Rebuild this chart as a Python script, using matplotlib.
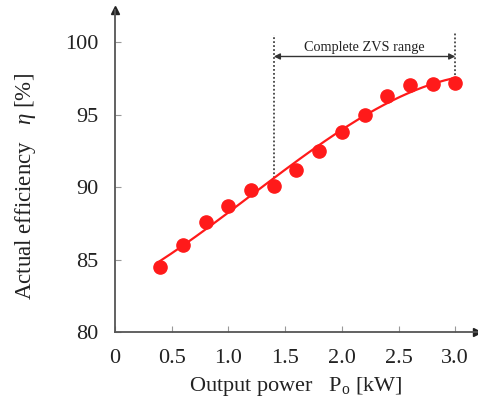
import numpy as np
import matplotlib
matplotlib.use('Agg')
import matplotlib.pyplot as plt

plt.rcParams['font.family'] = ['Liberation Serif', 'DejaVu Serif']
plt.rcParams['mathtext.fontset'] = 'custom'
plt.rcParams['mathtext.rm'] = 'Liberation Serif'
plt.rcParams['mathtext.it'] = 'Liberation Serif:italic'

#### data ####
power = [0.4, 0.6, 0.8, 1.0, 1.2, 1.4, 1.6, 1.8, 2.0, 2.2, 2.4, 2.6, 2.8, 3.0]
eff = [84.5, 86.0, 87.6, 88.7, 89.8, 90.1, 91.2, 92.5, 93.8, 95.0, 96.3, 97.0, 97.1, 97.15]
zvs_start = 1.4
zvs_end = 3.0
xticks = [0, 0.5, 1.0, 1.5, 2.0, 2.5, 3.0]
xticklabels = ['0', '0.5', '1.0', '1.5', '2.0', '2.5', '3.0']
yticks = [80, 85, 90, 95, 100]

axcol = '#555555'
red = '#ff1a1a'

fig = plt.figure(figsize=(4.78, 4.03), dpi=100)
ax = fig.add_axes([0.2406, 0.176, 0.757, 0.799])

# fitted trend line through the measured points
coef = np.polyfit(power, eff, 3)
xs = np.linspace(min(power), max(power), 200)
ax.plot(xs, np.polyval(coef, xs), color=red, lw=1.6, zorder=3)
ax.plot(power, eff, 'o', color=red, ms=9.5, mec=red, zorder=4)

# ZVS range marker
i0 = power.index(zvs_start)
i1 = power.index(zvs_end)
ax.plot([zvs_start, zvs_start], [eff[i0], 100.5], ls=(0, (1, 1.2)), color='#444444', lw=1.3, zorder=2)
ax.plot([zvs_end, zvs_end], [eff[i1], 100.6], ls=(0, (1, 1.2)), color='#444444', lw=1.3, zorder=2)
ax.annotate('', xy=(zvs_start, 99.0), xytext=(zvs_end, 99.0),
            arrowprops=dict(arrowstyle='<|-|>', color='#333333', lw=1.0,
                            mutation_scale=9, shrinkA=0, shrinkB=0))
ax.text((zvs_start + zvs_end) / 2, 99.2, 'Complete ZVS range', ha='center', va='bottom',
        fontsize=10.3, color='#222222')

ax.set_xlim(0, 3.19)
ax.set_ylim(80, 102.2)
ax.set_xticks(xticks)
ax.set_xticklabels(xticklabels)
ax.set_yticks(yticks)

for s in ['top', 'right']:
    ax.spines[s].set_visible(False)
for s in ['left', 'bottom']:
    ax.spines[s].set_color(axcol)
    ax.spines[s].set_linewidth(1.3)

# arrow heads on axes
ax.plot(1, 0, '>', color='#222222', ms=6, transform=ax.transAxes, clip_on=False)
ax.plot(0, 1, '^', color='#222222', ms=6, transform=ax.transAxes, clip_on=False)

ax.tick_params(direction='in', length=4, width=0.8, color='#999999',
               labelsize=16, labelcolor='#222222', pad=12)

ax.set_xlabel(r'Output power   P$_\mathregular{o}$ [kW]', fontsize=16, color='#222222', labelpad=5)
ax.set_ylabel(r'Actual efficiency   $\eta$ [%]', fontsize=16.5, color='#222222')
ax.yaxis.set_label_coords(-0.213, 0.453)

fig.savefig('out.png', dpi=100)
